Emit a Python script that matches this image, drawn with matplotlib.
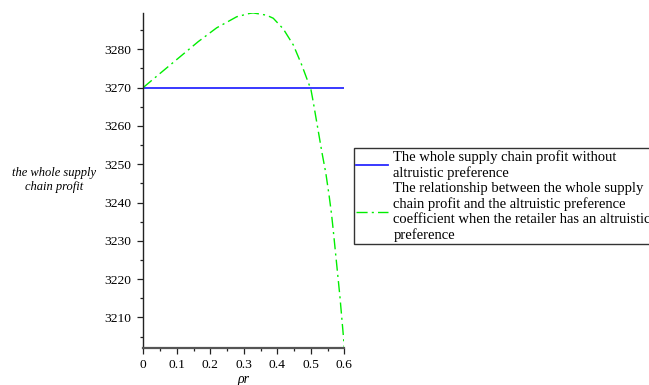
import matplotlib
matplotlib.use("Agg")
import matplotlib.pyplot as plt
from matplotlib.ticker import MultipleLocator

# Data
rho_flat = [0.0, 0.6]
profit_flat = [3270.0, 3270.0]

rho = [0.0, 0.005, 0.05, 0.109, 0.164, 0.219, 0.279, 0.319, 0.328, 0.368, 0.388,
       0.418, 0.448, 0.473, 0.493, 0.500, 0.507, 0.522, 0.533, 0.545, 0.555,
       0.562, 0.567, 0.577, 0.587, 0.597, 0.600]
profit = [3270.0, 3270.4, 3273.7, 3278.0, 3282.0, 3285.6, 3288.5, 3289.4, 3289.5,
          3288.9, 3288.1, 3285.3, 3281.1, 3275.9, 3271.2, 3269.7, 3266.4, 3258.8,
          3253.2, 3247.6, 3241.6, 3236.9, 3232.8, 3224.1, 3215.4, 3205.4, 3202.2]

x_ticks = [0, 0.1, 0.2, 0.3, 0.4, 0.5, 0.6]
x_tick_labels = ["0", "0.1", "0.2", "0.3", "0.4", "0.5", "0.6"]
y_ticks = [3210, 3220, 3230, 3240, 3250, 3260, 3270, 3280]

label_flat = "The whole supply chain profit without\naltruistic preference"
label_curve = ("The relationship between the whole supply\nchain profit and the altruistic preference\n"
               "coefficient when the retailer has an altruistic\npreference")

serif = "Liberation Serif"

fig = plt.figure(figsize=(6.49, 3.85), dpi=100)
ax = fig.add_axes([0.2208, 0.0969, 0.5305 - 0.2208, 0.9655 - 0.0969])

l1, = ax.plot(rho_flat, profit_flat, color="#2a2aff", lw=1.3, label=label_flat)
l2, = ax.plot(rho, profit, color="#00ee00", lw=1.0, linestyle=(0, (8, 3, 1.5, 3)),
              label=label_curve)

ax.set_xlim(0, 0.6)
ax.set_ylim(3202.1, 3289.4)
ax.set_xticks(x_ticks)
ax.set_xticklabels(x_tick_labels)
ax.set_yticks(y_ticks)
ax.xaxis.set_minor_locator(MultipleLocator(0.05))
ax.yaxis.set_minor_locator(MultipleLocator(5))

for s in ["top", "right"]:
    ax.spines[s].set_visible(False)
ax.spines["left"].set_color("#222222")
ax.spines["left"].set_linewidth(1.0)
ax.spines["bottom"].set_color("#555555")
ax.spines["bottom"].set_linewidth(1.6)

ax.tick_params(axis="both", which="major", direction="out", length=4.5, width=0.9,
               colors="#222222", labelsize=9.7)
ax.tick_params(axis="both", which="minor", direction="out", length=2.5, width=0.9,
               colors="#222222")
ax.tick_params(axis="x", which="major", pad=4)
ax.tick_params(axis="y", which="major", pad=4)
for lab in ax.get_xticklabels() + ax.get_yticklabels():
    lab.set_fontfamily(serif)
    lab.set_color("black")

fig.text(243 / 649, 1 - 379 / 385, "ρr", ha="center", va="center",
         fontfamily=serif, fontstyle="italic", fontsize=10)

fig.text(54 / 649, 1 - 180 / 385, "the whole supply\nchain profit", ha="center", va="center",
         fontfamily=serif, fontstyle="italic", fontsize=9, linespacing=1.2)

leg = fig.legend(handles=[l1, l2], loc="upper left",
                 bbox_to_anchor=(354 / 649, 1 - 148 / 385),
                 prop={"family": serif, "size": 10.5}, frameon=True, fancybox=False,
                 edgecolor="black", handlelength=2.2, handletextpad=0.35,
                 borderaxespad=0, borderpad=0.15, labelspacing=0.15)
for t in leg.get_texts():
    t.set_linespacing(1.2)
leg.get_frame().set_linewidth(1.0)

fig.savefig("out.png", dpi=100)
